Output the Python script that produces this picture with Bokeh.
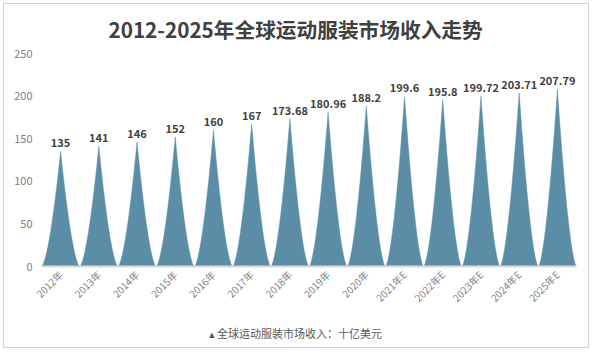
import math
import numpy as np
from bokeh.plotting import figure
from bokeh.models import FixedTicker, ColumnDataSource, Title
from bokeh.core.properties import value
from bokeh.embed import file_html
from bokeh.resources import INLINE

years = ["2012年", "2013年", "2014年", "2015年", "2016年", "2017年", "2018年",
         "2019年", "2020年", "2021年E", "2022年E", "2023年E", "2024年E", "2025年E"]
revenue = [135, 141, 146, 152, 160, 167, 173.68, 180.96, 188.2,
           199.6, 195.8, 199.72, 203.71, 207.79]
revenue_labels = ["135", "141", "146", "152", "160", "167", "173.68", "180.96",
                  "188.2", "199.6", "195.8", "199.72", "203.71", "207.79"]
y_ticks = [0, 50, 100, 150, 200, 250]

title_text = "2012-2025年全球运动服装市场收入走势"
legend_text = "▴ 全球运动服装市场收入：十亿美元"

PEAK = "#5B8EA6"
CJK = "Noto Sans CJK SC"

W, H = 586, 345
p = figure(width=W, height=H, x_range=(-0.5, 13.5), y_range=(0, 250),
           output_backend="svg", toolbar_location=None,
           min_border_left=37, min_border_right=14, min_border_top=49,
           min_border_bottom=83)
p.styles = {"border": "1px solid #d0d0d0", "margin": "3px"}
p.outline_line_color = None
p.xgrid.grid_line_color = None
p.ygrid.grid_line_color = None
p.background_fill_color = "white"
p.border_fill_color = "white"

# title
p.title.text = title_text
p.title.align = "left"
p.title.offset = 67
p.title.vertical_align = "top"
p.title.text_font = CJK
p.title.text_font_size = "20.7px"
p.title.text_font_style = "bold"
p.title.text_color = "#404040"
p.title.standoff = 15

# concave peaks
xs, ys = [], []
t = np.linspace(-0.5, 0.5, 61)
for i, v in enumerate(revenue):
    xs.append(list(i + t))
    ys.append(list(v * (1 - np.abs(2 * t)) ** 1.6))
p.patches(xs, ys, fill_color=PEAK, line_color=PEAK, line_width=0.5)

# value labels
src = ColumnDataSource(dict(x=list(range(len(revenue))), y=revenue, t=revenue_labels))
p.text(x="x", y="y", text="t", source=src, text_align="center",
       text_baseline="bottom", y_offset=-4, text_font=value(CJK),
       text_font_size="11px", text_font_style="bold", text_color="#404040")

# axes
p.xaxis.ticker = FixedTicker(ticks=list(range(len(years))))
p.xaxis.major_label_overrides = {i: y for i, y in enumerate(years)}
p.xaxis.major_label_orientation = math.pi / 4
p.xaxis.major_tick_line_color = None
p.xaxis.minor_tick_line_color = None
p.xaxis.major_tick_out = 0
p.xaxis.major_tick_in = 0
p.xaxis.axis_line_color = "#d9d9d9"
p.xaxis.axis_line_width = 2
p.xaxis.major_label_text_font = CJK
p.xaxis.major_label_text_font_size = "10px"
p.xaxis.major_label_text_color = "#7f7f7f"
p.xaxis.major_label_standoff = 6

p.yaxis.ticker = FixedTicker(ticks=y_ticks)
p.yaxis.axis_line_color = None
p.yaxis.major_tick_line_color = None
p.yaxis.minor_tick_line_color = None
p.yaxis.major_tick_out = 0
p.yaxis.major_tick_in = 0
p.yaxis.major_label_text_font = CJK
p.yaxis.major_label_text_font_size = "11px"
p.yaxis.major_label_text_color = "#7f7f7f"
p.yaxis.major_label_standoff = 9

# legend line (as a title below the axis)
leg = Title(text=legend_text, align="left", offset=167, text_font=CJK,
            text_font_size="11px", text_font_style="normal",
            text_color="#595959", standoff=18)
p.add_layout(leg, "below")

open("out.html", "w").write(file_html(p, INLINE))
